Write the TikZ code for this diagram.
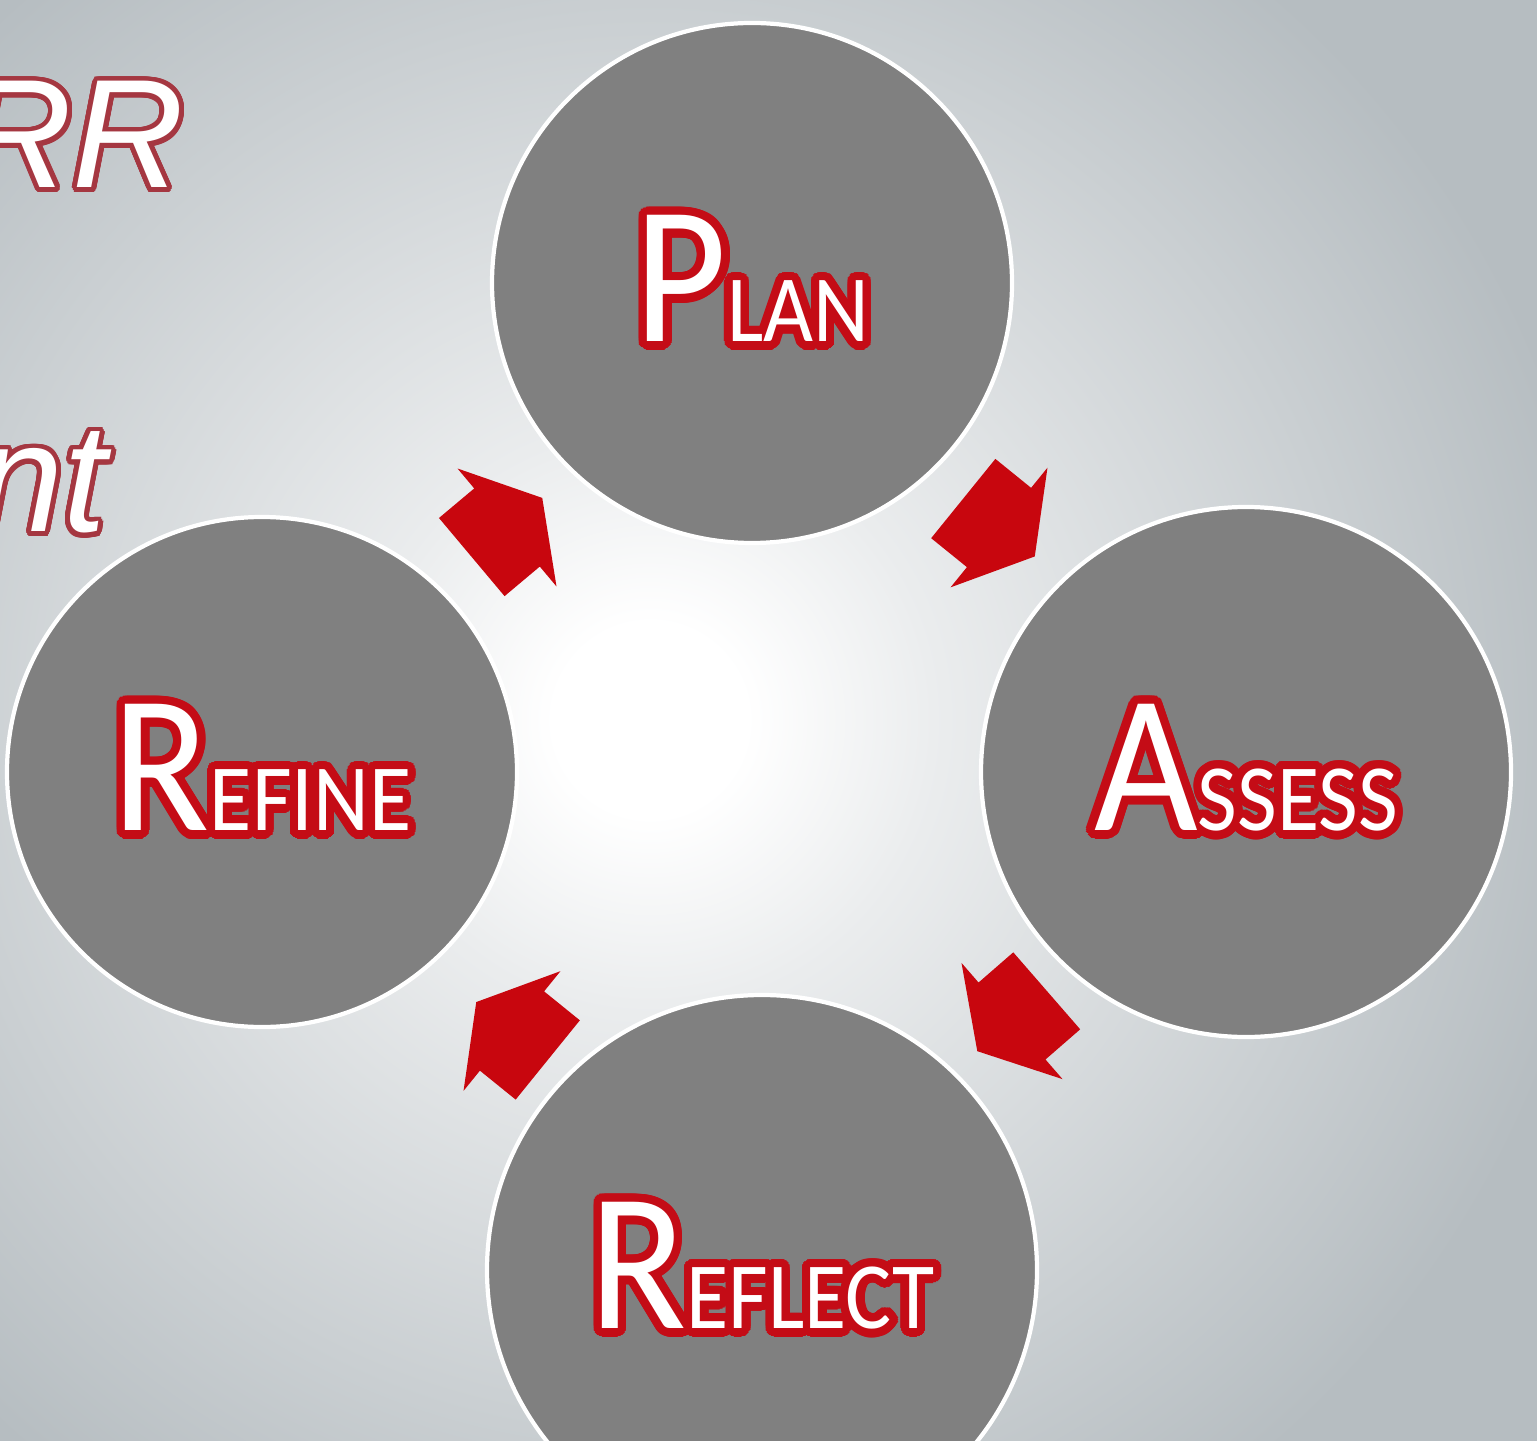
\documentclass[tikz,border=0pt]{standalone}
\usepackage{fontspec}
\setmainfont{Carlito}
\newfontfamily\discfont{Carlito}[FakeStretch=0.91]
\newfontfamily\slidefont{Liberation Sans}
\usepackage{contour}
\usetikzlibrary{calc}
\definecolor{bggray}{RGB}{182,189,193}
\definecolor{discgray}{RGB}{128,128,128}
\definecolor{arrowred}{RGB}{200,6,14}
\definecolor{rimred}{RGB}{196,12,22}
\definecolor{titlered}{RGB}{165,55,65}
\pgfdeclareradialshading{centreglow}{\pgfpoint{0bp}{0bp}}{color(0bp)=(white); color(2bp)=(white); color(6bp)=(bggray!28!white); color(20bp)=(bggray); color(50bp)=(bggray)}
\contourlength{2.4pt}
\newcommand{\bigsmall}[2]{\contour[32]{rimred}{\discfont{\fontsize{56}{56}\selectfont #1}{\fontsize{27}{27}\selectfont #2}}}
\newcommand{\cyclearrow}{\fill[arrowred] (-0.46,0.51) -- (0,0.51) -- (0,0.77) -- (0.46,0) -- (0,-0.77) -- (0,-0.51) -- (-0.46,-0.51) -- cycle;}
\tikzset{disc/.style={circle, fill=discgray, draw=white, line width=1.2pt, inner sep=0pt, text=white},
	slidetext/.style={inner sep=0pt, anchor=base east, text=white, font=\slidefont\itshape\fontsize{44}{44}\selectfont}}

\begin{document}
\begin{tikzpicture}

					\useasboundingbox (0,0) rectangle (15.37,14.40);
					\fill[bggray] (0,0) rectangle (15.37,14.40);
					\shade[shading=centreglow] (6.5,7.2) circle (12);

					% cut-off title lines of the slide
					\node[slidetext] (title) at (1.85,12.52) {\contourlength{1.4pt}\contour[32]{titlered}{RR}};
					\node[slidetext] (subtitle) at (1.07,9.08) {\contourlength{1.4pt}\contour[32]{titlered}{nt}};

					\node[disc, minimum size=5.2cm] (plan) at (7.52,11.57) {\bigsmall{P}{LAN}};
					\node[disc, minimum size=5.3cm] (assess) at (12.46,6.68) {\bigsmall{A}{SSESS}};
					\node[disc, minimum size=5.5cm] (reflect) at (7.62,1.70) {\bigsmall{R}{EFLECT}};
					\node[disc, minimum size=5.1cm] (refine) at (2.62,6.68) {\bigsmall{R}{EFINE}};

					\begin{scope}[shift={($(refine)!0.5!(plan)$)}, rotate = 40]
						\cyclearrow
					\end{scope}

					\begin{scope}[shift={($(plan)!0.5!(assess)$)}, rotate = -39]
						\cyclearrow
					\end{scope}

					\begin{scope}[shift={($(assess)!0.5!(reflect)$)}, xshift=0.08cm, rotate = 221]
						\cyclearrow
					\end{scope}

					\begin{scope}[shift={($(reflect)!0.5!(refine)$)}, yshift=-0.1cm, rotate = 141]
						\cyclearrow
					\end{scope}

\end{tikzpicture}
\end{document}
